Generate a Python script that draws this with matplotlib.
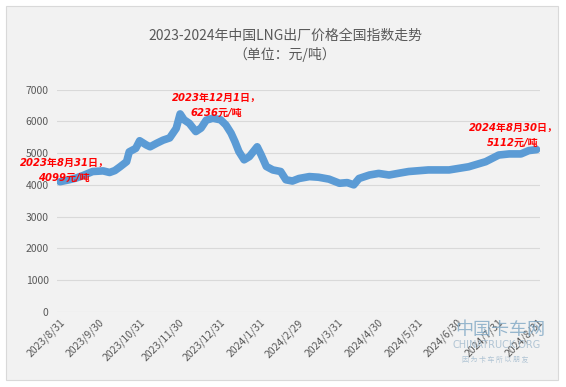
import numpy as np
import pandas as pd
import matplotlib
matplotlib.use("Agg")
import matplotlib.pyplot as plt
from matplotlib.patches import Rectangle

plt.rcParams['font.family'] = ['Noto Sans CJK SC', 'DejaVu Sans']

# values (yuan/ton)
dates = [
    "2023-08-31", "2023-09-06", "2023-09-12", "2023-09-18", "2023-09-25", "2023-10-03",
    "2023-10-08", "2023-10-12", "2023-10-16", "2023-10-21", "2023-10-23", "2023-10-28",
    "2023-10-31", "2023-11-05", "2023-11-08", "2023-11-13", "2023-11-18", "2023-11-23",
    "2023-11-28", "2023-12-01", "2023-12-04", "2023-12-08", "2023-12-13", "2023-12-17",
    "2023-12-21", "2023-12-26", "2024-01-01", "2024-01-05", "2024-01-09", "2024-01-12",
    "2024-01-15", "2024-01-19", "2024-01-23", "2024-01-29", "2024-02-01", "2024-02-05",
    "2024-02-10", "2024-02-16", "2024-02-20", "2024-02-25", "2024-03-01", "2024-03-09",
    "2024-03-16", "2024-03-24", "2024-04-01", "2024-04-07", "2024-04-12", "2024-04-16",
    "2024-04-24", "2024-05-01", "2024-05-09", "2024-05-17", "2024-05-24", "2024-06-08",
    "2024-06-24", "2024-07-09", "2024-07-22", "2024-08-01", "2024-08-09", "2024-08-18",
    "2024-08-24", "2024-08-30",
]
values = [
    4099, 4150, 4210, 4300, 4420, 4440,
    4390, 4450, 4570, 4730, 5040, 5150,
    5390, 5260, 5200, 5310, 5410, 5480,
    5780, 6236, 6050, 5940, 5680, 5790,
    6040, 6100, 6050, 5890, 5630, 5360,
    5050, 4790, 4890, 5200, 4950, 4580,
    4470, 4420, 4160, 4120, 4200, 4260,
    4240, 4180, 4050, 4070, 4000, 4200,
    4310, 4360, 4310, 4370, 4420, 4470,
    4470, 4570, 4730, 4940, 4975, 4975,
    5080, 5112,
]
tick_dates = [
    "2023-08-31", "2023-09-30", "2023-10-31", "2023-11-30", "2023-12-31", "2024-01-31",
    "2024-02-29", "2024-03-31", "2024-04-30", "2024-05-31", "2024-06-30", "2024-07-31",
    "2024-08-31",
]
tick_labels = [
    "2023/8/31", "2023/9/30", "2023/10/31", "2023/11/30", "2023/12/31", "2024/1/31",
    "2024/2/29", "2024/3/31", "2024/4/30", "2024/5/31", "2024/6/30", "2024/7/31",
    "2024/8/31",
]
y_ticks = [0, 1000, 2000, 3000, 4000, 5000, 6000, 7000]

x = pd.to_datetime(dates)
xt = pd.to_datetime(tick_dates)

fig = plt.figure(figsize=(5.66, 3.87), dpi=100)
fig.patch.set_facecolor("white")
fig.patches.append(Rectangle((6 / 566, 1 - 380 / 387), 552 / 566, 374 / 387,
                             transform=fig.transFigure, facecolor="#F2F2F2",
                             edgecolor="#D9D9D9", lw=0.8, zorder=-10))

ax = fig.add_axes([57 / 566, 1 - 311.7 / 387, 483 / 566, 222 / 387])
ax.set_facecolor("none")

ax.plot(x, values, color="#5B9BD5", lw=5.5, solid_joinstyle="round",
        solid_capstyle="round", zorder=3)

ax.set_ylim(0, 7000)
ax.set_yticks(y_ticks)
ax.set_xlim(x[0] - pd.Timedelta(days=2.3), x[-1] + pd.Timedelta(days=2.6))
ax.set_xticks(xt)
ax.set_xticklabels(tick_labels, rotation=45, ha="right", rotation_mode="anchor")
ax.tick_params(axis="both", length=0, labelsize=7.5, colors="#595959")
ax.tick_params(axis="x", pad=4)
ax.tick_params(axis="y", pad=6)
ax.grid(axis="y", color="#D9D9D9", lw=0.8)
for s in ax.spines.values():
    s.set_visible(False)

fig.text(285 / 566, 1 - 36 / 387, "2023-2024年中国LNG出厂价格全国指数走势",
         ha="center", va="center", fontsize=10, color="#595959")
fig.text(285 / 566, 1 - 55 / 387, "（单位：元/吨）",
         ha="center", va="center", fontsize=10, color="#595959")

ann = dict(color="#FF0000", fontsize=7.2, fontweight="bold", style="italic",
           ha="center", va="center", family=["DejaVu Sans", "Noto Sans CJK SC"],
           linespacing=1.6, zorder=5)
fig.text(64 / 566, 1 - 170 / 387, "2023年8月31日，\n4099元/吨", **ann)
fig.text(216 / 566, 1 - 105 / 387, "2023年12月1日，\n6236元/吨", **ann)
fig.text(513 / 566, 1 - 135 / 387, "2024年8月30日，\n5112元/吨", **ann)

# watermark
fig.text(500 / 566, 1 - 330 / 387, "中国卡车网", ha="center", va="center",
         fontsize=13, color="#7FA7C4", alpha=0.8, zorder=5)
fig.text(497 / 566, 1 - 345 / 387, "CHINATRUCK.ORG", ha="center", va="center",
         fontsize=7, color="#9FB8CC", alpha=0.8, family="DejaVu Sans", zorder=5)
fig.text(495 / 566, 1 - 360 / 387, "因 为 卡 车 所 以 朋 友", ha="center", va="center",
         fontsize=5, color="#9FB8CC", alpha=0.8, zorder=5)

fig.savefig("out.png", dpi=100)
